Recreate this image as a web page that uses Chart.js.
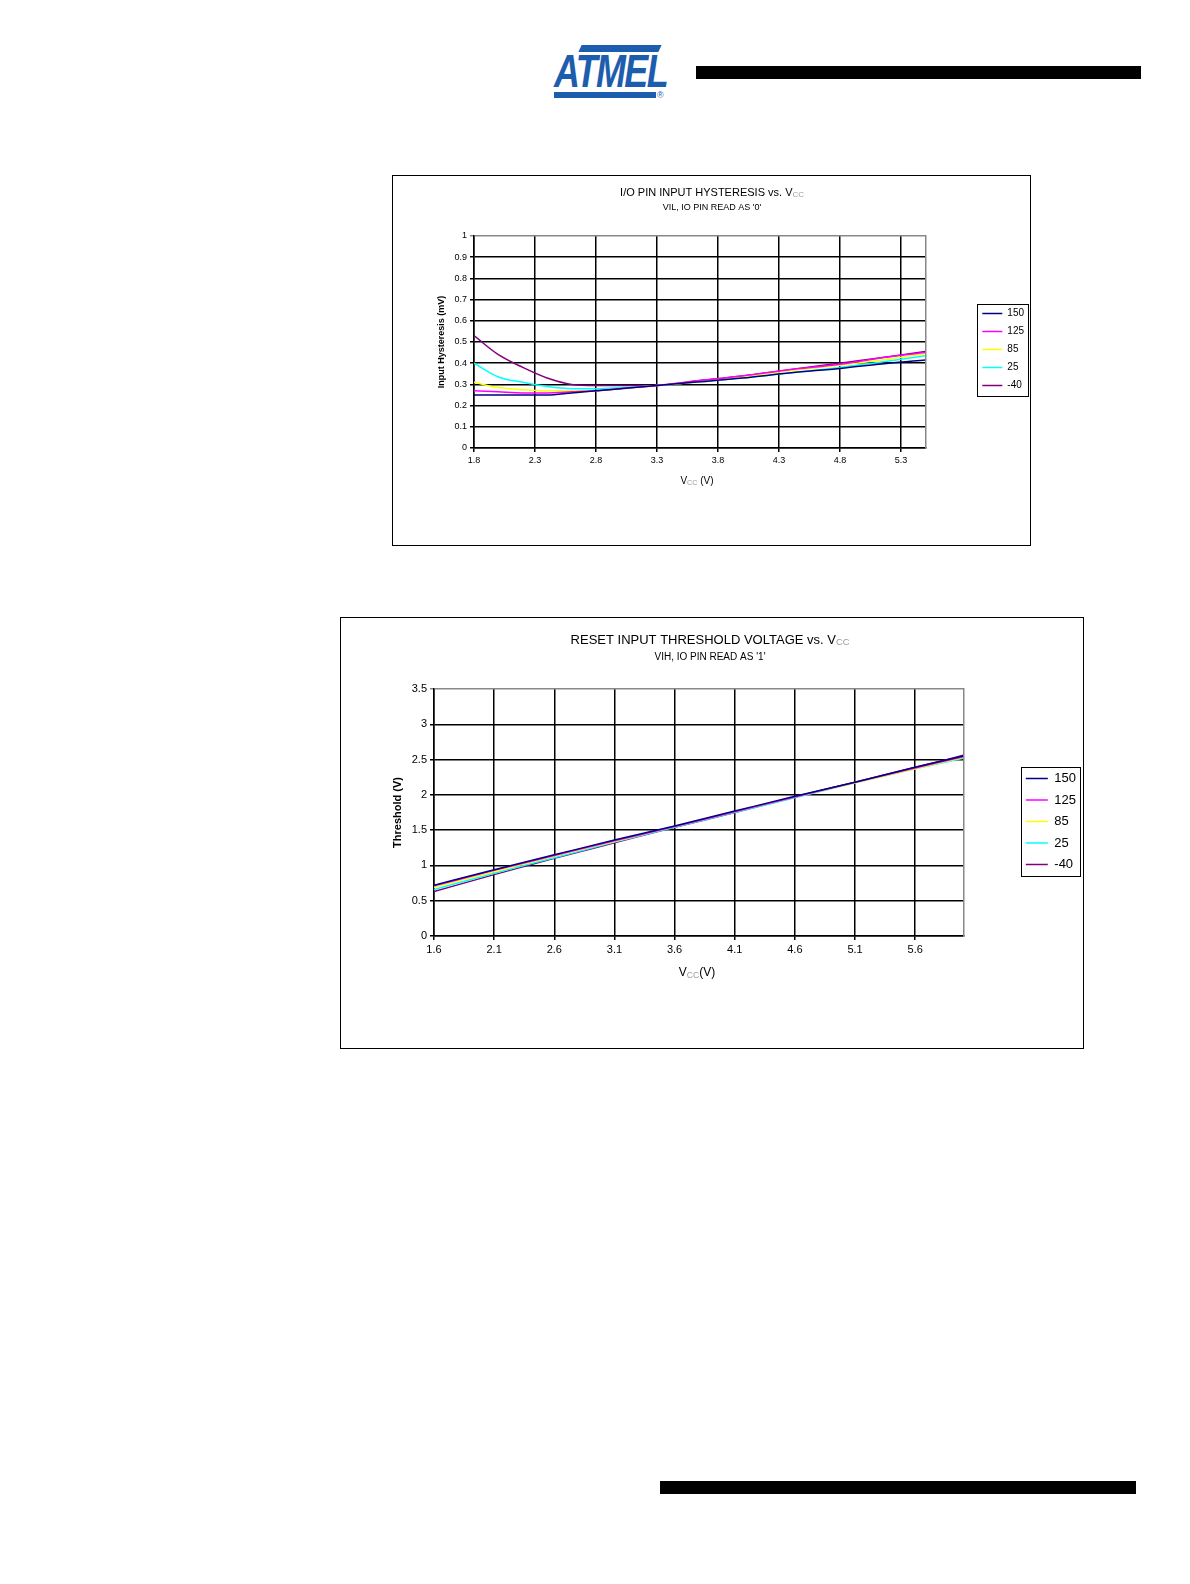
<!DOCTYPE html>
<html>
<head>
<meta charset="utf-8">
<script src="https://cdn.jsdelivr.net/npm/chart.js@4.4.1/dist/chart.umd.min.js"></script>
<style>
body{margin:0;background:#fff;width:1190px;height:1584px;position:relative;font-family:"Liberation Sans",Arial,sans-serif;overflow:hidden}
.box{position:absolute;border:1px solid #000;background:#fff}
.box canvas{display:block}
.bar{position:absolute;background:#000}
#logo{position:absolute;left:550px;top:44px;width:120px;height:56px}
#logo .top{position:absolute;left:30px;top:1px;width:80px;height:7px;background:#1c5dae;transform:skewX(-25deg)}
#logo .txt{position:absolute;left:4px;top:4px;font:italic 900 46px "Liberation Sans",Arial,sans-serif;color:#1c5dae;letter-spacing:-2px;line-height:46px;transform:scaleX(0.78);transform-origin:left top}
#logo .bot{position:absolute;left:4px;top:48px;width:102px;height:6px;background:#1c5dae}
#logo .reg{position:absolute;left:107px;top:46px;font:9px "Liberation Sans",Arial,sans-serif;color:#1c5dae}
</style>
</head>
<body>
<div id="logo"><div class="top"></div><div class="txt">ATMEL</div><div class="bot"></div><div class="reg">®</div></div>
<div class="bar" style="left:696px;top:66px;width:445px;height:13px"></div>

<div class="box" style="left:392px;top:175px;width:637px;height:369px">
  <canvas id="hyst" width="637" height="369"></canvas>
</div>
<div class="box" style="left:340px;top:617px;width:742px;height:430px">
  <canvas id="thresh" width="742" height="430"></canvas>
</div>

<div class="bar" style="left:660px;top:1481px;width:476px;height:13px"></div>

<script>
// temperatures (legend) and colours
const temps = ['150', '125', '85', '25', '-40'];
const tempColors = ['#000080', '#ff00ff', '#ffff00', '#00ffff', '#800080'];

// chart 1: I/O pin input hysteresis vs Vcc
const vccHyst = [1.8, 2.0, 2.2, 2.4, 2.6, 2.8, 3.0, 3.3, 3.6, 4.0, 4.4, 4.8, 5.2, 5.5];
const hyst150 = [0.25, 0.25, 0.25, 0.25, 0.26, 0.27, 0.28, 0.295, 0.31, 0.33, 0.355, 0.375, 0.40, 0.415];
const hyst125 = [0.27, 0.265, 0.26, 0.26, 0.265, 0.27, 0.28, 0.295, 0.315, 0.34, 0.37, 0.395, 0.43, 0.45];
const hyst85 = [0.31, 0.285, 0.275, 0.27, 0.27, 0.27, 0.28, 0.295, 0.31, 0.335, 0.365, 0.39, 0.42, 0.445];
const hyst25 = [0.40, 0.335, 0.31, 0.29, 0.28, 0.28, 0.285, 0.295, 0.31, 0.33, 0.355, 0.38, 0.41, 0.435];
const hystM40 = [0.53, 0.44, 0.38, 0.33, 0.30, 0.295, 0.295, 0.295, 0.315, 0.34, 0.37, 0.40, 0.43, 0.455];
const hystXTicks = [1.8, 2.3, 2.8, 3.3, 3.8, 4.3, 4.8, 5.3];

// chart 2: reset input threshold voltage vs Vcc
const vccThr = [1.6, 2.1, 2.6, 3.1, 3.6, 4.1, 4.6, 5.1, 5.6, 6.0];
const thr150 = [0.72, 0.94, 1.15, 1.36, 1.56, 1.77, 1.98, 2.18, 2.39, 2.55];
const thr125 = [0.71, 0.93, 1.14, 1.35, 1.55, 1.76, 1.97, 2.18, 2.38, 2.54];
const thr85 = [0.69, 0.91, 1.13, 1.34, 1.55, 1.76, 1.97, 2.17, 2.37, 2.53];
const thr25 = [0.66, 0.89, 1.11, 1.33, 1.54, 1.75, 1.96, 2.17, 2.37, 2.52];
const thrM40 = [0.63, 0.87, 1.10, 1.32, 1.54, 1.75, 1.97, 2.18, 2.39, 2.56];
const thrXTicks = [1.6, 2.1, 2.6, 3.1, 3.6, 4.1, 4.6, 5.1, 5.6];

const FONT = '"Liberation Sans", Arial, sans-serif';

// text lines with a subscript part (V cc), drawn on the canvas
const textLines = (lines) => ({
  id: 'textLines',
  afterDraw(chart) {
    const ctx = chart.ctx;
    ctx.save();
    ctx.textBaseline = 'middle';
    lines.forEach(l => {
      let w = 0;
      l.parts.forEach(p => {
        ctx.font = (p.sub ? l.size * 0.72 : l.size) + 'px ' + FONT;
        p.w = ctx.measureText(p.text).width;
        w += p.w;
      });
      let x = l.x - w / 2;
      l.parts.forEach(p => {
        ctx.font = (p.sub ? l.size * 0.72 : l.size) + 'px ' + FONT;
        ctx.fillStyle = p.sub ? '#9a9a9a' : '#000';
        ctx.textAlign = 'left';
        ctx.fillText(p.text, x, p.sub ? l.y + l.size * 0.2 : l.y);
        x += p.w;
      });
    });
    ctx.restore();
  }
});

// thin frame round the legend items
const legendFrame = {
  id: 'legendFrame',
  afterDraw(chart) {
    const hb = chart.legend.legendHitBoxes;
    if (!hb || !hb.length) return;
    const l = Math.min(...hb.map(b => b.left)) - 5;
    const t = Math.min(...hb.map(b => b.top)) - 5;
    const r = Math.max(...hb.map(b => b.left + b.width)) + 4;
    const bt = Math.max(...hb.map(b => b.top + b.height)) + 5;
    const ctx = chart.ctx;
    ctx.save();
    ctx.strokeStyle = '#000';
    ctx.lineWidth = 1;
    ctx.strokeRect(Math.round(l) + 0.5, Math.round(t) + 0.5, Math.round(r - l), Math.round(bt - t));
    ctx.restore();
  }
};

const makeSets = (xs, series) => series.map((ys, i) => ({
  label: temps[i],
  data: xs.map((x, j) => ({x: x, y: ys[j]})),
  borderColor: tempColors[i],
  backgroundColor: tempColors[i],
  borderWidth: 1.5,
  pointRadius: 0,
  cubicInterpolationMode: 'monotone'
}));

const drawChart = (canvas, s) => {
  const gridColor = (c) => (c.tick && c.tick.value === s.yMax) ? '#888' : '#000';
  //eslint-disable-next-line no-undef
  new Chart(canvas.getContext('2d'), {
    type: 'line',
    data: {datasets: s.datasets},
    options: {
      responsive: false,
      animation: false,
      layout: {padding: s.padding},
      scales: {
        x: {
          type: 'linear', min: s.xMin, max: s.xMax,
          afterBuildTicks: sc => { sc.ticks = s.xTicks.map(v => ({value: v})); },
          afterFit: sc => { sc.height = s.xHeight; },
          ticks: {color: '#000', font: {family: FONT, size: s.tickSize}, padding: 3, maxRotation: 0,
            callback: v => v.toFixed(1)},
          grid: {color: '#000', lineWidth: 1.5, tickLength: 4},
          border: {color: '#000', width: 1.5}
        },
        y: {
          min: 0, max: s.yMax,
          afterFit: sc => { sc.width = s.yWidth; },
          ticks: {stepSize: s.yStep, color: '#000', font: {family: FONT, size: s.tickSize}, padding: 3,
            callback: v => String(Math.round(v * 100) / 100)},
          grid: {color: gridColor, lineWidth: 1.5, tickLength: 4},
          border: {color: '#000', width: 1.5},
          title: {display: true, text: s.yTitle, color: '#000', padding: 0,
            font: {family: FONT, size: s.yTitleSize, weight: 'bold'}}
        },
        gap: {
          position: 'right', axis: 'y',
          afterFit: sc => { sc.width = s.gap; },
          ticks: {display: false},
          grid: {display: false},
          border: {color: '#888', width: 1.5}
        }
      },
      plugins: {
        legend: {
          position: 'right', align: 'center',
          labels: {usePointStyle: true, pointStyle: 'line', pointStyleWidth: s.legendLine,
            color: '#000', padding: s.legendPad, font: {family: FONT, size: s.legendSize}}
        },
        tooltip: {enabled: false}
      }
    },
    plugins: [textLines(s.lines), legendFrame]
  });
};

drawChart(document.getElementById('hyst'), {
  datasets: makeSets(vccHyst, [hyst150, hyst125, hyst85, hyst25, hystM40]),
  xMin: 1.8, xMax: 5.5, xTicks: hystXTicks, yMax: 1, yStep: 0.1,
  padding: {left: 43, right: -4, top: 60, bottom: 82},
  xHeight: 15, yWidth: 38, gap: 49, tickSize: 9,
  yTitle: 'Input Hysteresis (mV)', yTitleSize: 9,
  legendLine: 20, legendPad: 8, legendSize: 10,
  lines: [
    {x: 319, y: 17, size: 11, parts: [{text: 'I/O PIN INPUT HYSTERESIS vs. V'}, {text: 'CC', sub: true}]},
    {x: 319, y: 32, size: 9, parts: [{text: "VIL, IO PIN READ AS '0'"}]},
    {x: 304, y: 305, size: 10, parts: [{text: 'V'}, {text: 'CC', sub: true}, {text: ' (V)'}]}
  ]
});

drawChart(document.getElementById('thresh'), {
  datasets: makeSets(vccThr, [thr150, thr125, thr85, thr25, thrM40]),
  xMin: 1.6, xMax: 6.0, xTicks: thrXTicks, yMax: 3.5, yStep: 0.5,
  padding: {left: 50, right: -3, top: 71, bottom: 94},
  xHeight: 18, yWidth: 43, gap: 54, tickSize: 11,
  yTitle: 'Threshold (V)', yTitleSize: 11,
  legendLine: 22, legendPad: 8.5, legendSize: 13,
  lines: [
    {x: 369, y: 22, size: 13, parts: [{text: 'RESET INPUT THRESHOLD VOLTAGE vs. V'}, {text: 'CC', sub: true}]},
    {x: 369, y: 39, size: 10, parts: [{text: "VIH, IO PIN READ AS '1'"}]},
    {x: 356, y: 355, size: 12, parts: [{text: 'V'}, {text: 'CC', sub: true}, {text: '(V)'}]}
  ]
});
</script>
</body>
</html>
